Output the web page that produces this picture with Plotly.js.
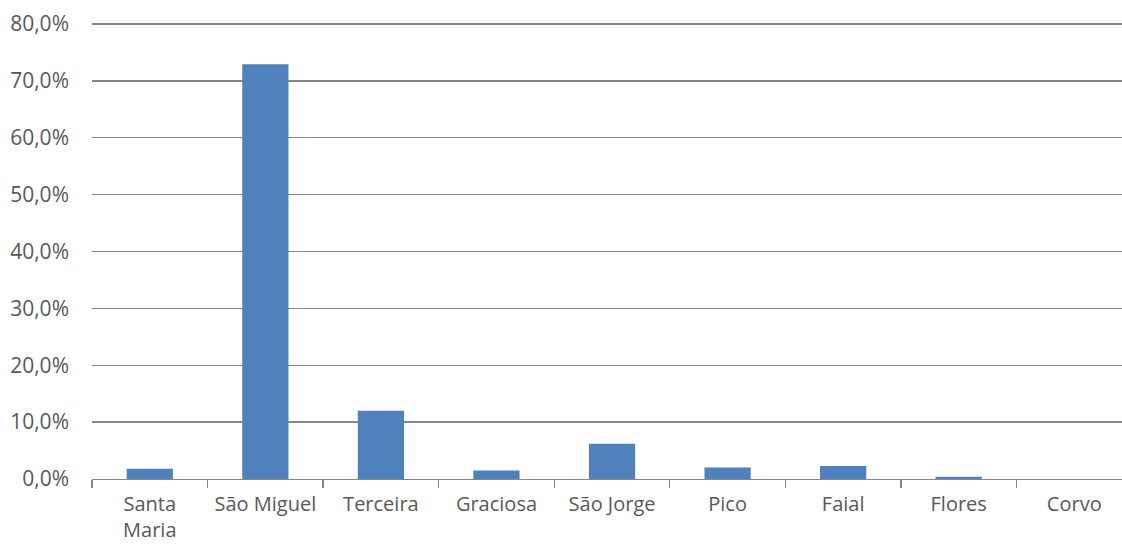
<!DOCTYPE html>
<html><head><meta charset="utf-8">
<script src="https://cdn.plot.ly/plotly-3.0.1.min.js"></script>
<style>html,body{margin:0;padding:0;background:#fff}#chart{width:1122px;height:547px}</style>
</head><body><div id="chart"></div>
<script>
const categories = ["Santa<br>Maria","São Miguel","Terceira","Graciosa","São Jorge","Pico","Faial","Flores","Corvo"];
const shares = [1.8, 72.9, 12.0, 1.5, 6.2, 2.0, 2.3, 0.4, 0.0];
const yTicks = [0,10,20,30,40,50,60,70,80];
const yTickText = ["0,0%","10,0%","20,0%","30,0%","40,0%","50,0%","60,0%","70,0%","80,0%"];

const trace = {
  type: "bar", x: categories, y: shares, width: 0.4,
  marker: {color: "#4F81BD", line: {width: 0}},
  hoverinfo: "skip"
};
const layout = {
  width: 1122, height: 547,
  margin: {l: 92, r: 0, t: 22, b: 68},
  paper_bgcolor: "#fff", plot_bgcolor: "#fff",
  showlegend: false,
  font: {family: "Open Sans, Noto Sans, sans-serif", color: "#595959", size: 21},
  xaxis: {
    type: "category", range: [-0.5, 8.413], tickangle: 0,
    tickson: "boundaries", ticks: "outside", ticklen: 8, tickcolor: "#868686", tickwidth: 1.3,
    showline: true, linecolor: "#868686", linewidth: 1.3,
    showgrid: false, zeroline: false, ticklabelstandoff: 7,
    tickfont: {size: 20, color: "#595959"}
  },
  yaxis: {
    range: [0, 80.35], tickvals: yTicks, ticktext: yTickText, tickmode: "array",
    showgrid: true, gridcolor: "#868686", gridwidth: 1.3,
    zeroline: false, showline: false, ticks: "", ticklabelstandoff: 22,
    tickfont: {size: 21, color: "#595959"}
  },
  bargap: 0.6
};
Plotly.newPlot("chart", [trace], layout, {displayModeBar: false, staticPlot: true});
</script></body></html>
